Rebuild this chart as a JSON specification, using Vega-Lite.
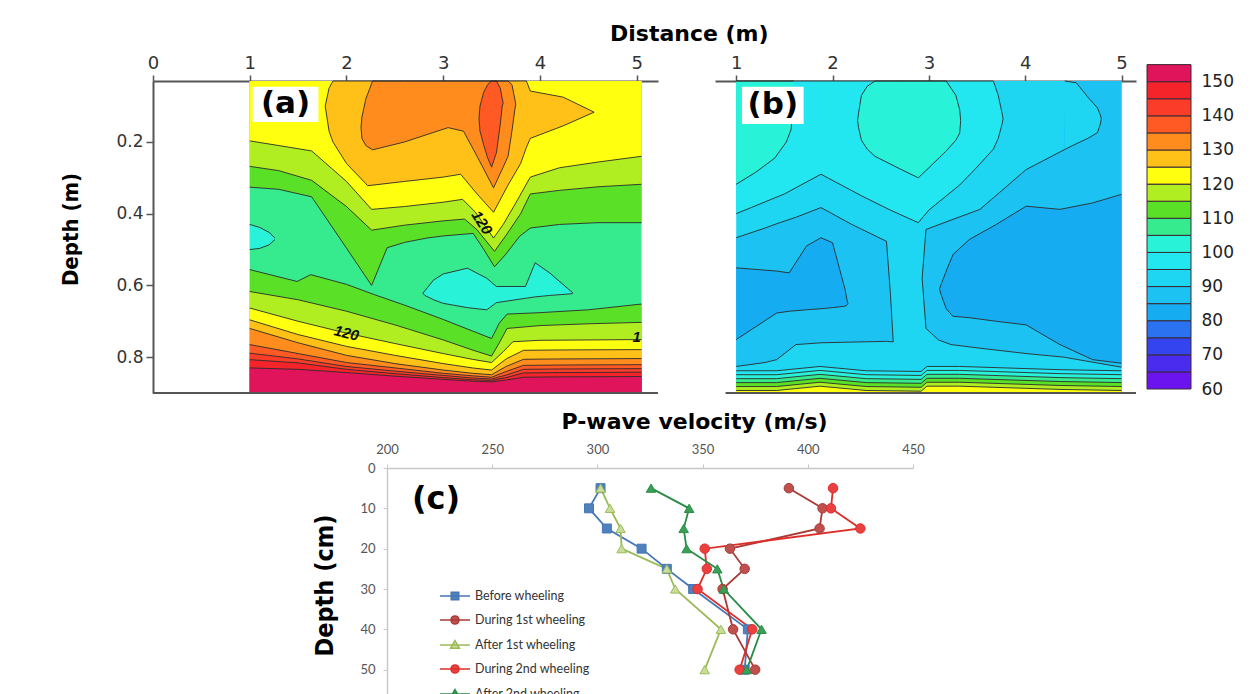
{
"$schema":"https://vega.github.io/schema/vega-lite/v6.json",
"background":"white",
"padding":{"left":59,"top":23,"right":5,"bottom":0},
"title":{"text":"Distance (m)","anchor":"start","frame":"bounds","dx":551,"dy":23,"offset":9,"baseline":"bottom","font":"DejaVu Sans","fontSize":22,"fontWeight":"bold","color":"#000"},
"config":{"view":{"stroke":null},"axis":{"labelOverlap":false,"labelFlush":false,"grid":false}},
"resolve":{"scale":{"fill":"independent","stroke":"independent","shape":"independent"}},
"datasets":{
"A":[
{"g":"a0","o":0,"v":105,"t":0,"b":0,"x":1,"y1":0.03,"y2":0.9},
{"g":"a0","o":0,"v":105,"t":0,"b":0,"x":5.05,"y1":0.03,"y2":0.9},
{"g":"ai1","o":1,"v":100,"t":1,"b":1,"x":1,"y1":0.43,"y2":0.5},
{"g":"ai1","o":1,"v":100,"t":1,"b":1,"x":1.1,"y1":0.438,"y2":0.497},
{"g":"ai1","o":1,"v":100,"t":1,"b":1,"x":1.2,"y1":0.452,"y2":0.487},
{"g":"ai1","o":1,"v":100,"t":1,"b":1,"x":1.26,"y1":0.468,"y2":0.472},
{"g":"ai2","o":1,"v":100,"t":1,"b":1,"x":2.79,"y1":0.622,"y2":0.622},
{"g":"ai2","o":1,"v":100,"t":1,"b":1,"x":2.81,"y1":0.615,"y2":0.628},
{"g":"ai2","o":1,"v":100,"t":1,"b":1,"x":2.9,"y1":0.585,"y2":0.64},
{"g":"ai2","o":1,"v":100,"t":1,"b":1,"x":3.0,"y1":0.568,"y2":0.65},
{"g":"ai2","o":1,"v":100,"t":1,"b":1,"x":3.25,"y1":0.552,"y2":0.662},
{"g":"ai2","o":1,"v":100,"t":1,"b":1,"x":3.45,"y1":0.58,"y2":0.668},
{"g":"ai2","o":1,"v":100,"t":1,"b":1,"x":3.55,"y1":0.603,"y2":0.648},
{"g":"ai2","o":1,"v":100,"t":1,"b":1,"x":3.85,"y1":0.603,"y2":0.636},
{"g":"ai2","o":1,"v":100,"t":1,"b":1,"x":3.95,"y1":0.537,"y2":0.632},
{"g":"ai2","o":1,"v":100,"t":1,"b":1,"x":4.1,"y1":0.565,"y2":0.628},
{"g":"ai2","o":1,"v":100,"t":1,"b":1,"x":4.34,"y1":0.621,"y2":0.623},
{"g":"a110t","o":2,"v":110,"t":0,"b":1,"x":1,"y1":0.03,"y2":0.326},
{"g":"a110t","o":2,"v":110,"t":0,"b":1,"x":1.3,"y1":0.03,"y2":0.332},
{"g":"a110t","o":2,"v":110,"t":0,"b":1,"x":1.64,"y1":0.03,"y2":0.353},
{"g":"a110t","o":2,"v":110,"t":0,"b":1,"x":2.0,"y1":0.03,"y2":0.496},
{"g":"a110t","o":2,"v":110,"t":0,"b":1,"x":2.26,"y1":0.03,"y2":0.6},
{"g":"a110t","o":2,"v":110,"t":0,"b":1,"x":2.42,"y1":0.03,"y2":0.495},
{"g":"a110t","o":2,"v":110,"t":0,"b":1,"x":2.6,"y1":0.03,"y2":0.48},
{"g":"a110t","o":2,"v":110,"t":0,"b":1,"x":2.83,"y1":0.03,"y2":0.468},
{"g":"a110t","o":2,"v":110,"t":0,"b":1,"x":3.0,"y1":0.03,"y2":0.462},
{"g":"a110t","o":2,"v":110,"t":0,"b":1,"x":3.31,"y1":0.03,"y2":0.455},
{"g":"a110t","o":2,"v":110,"t":0,"b":1,"x":3.42,"y1":0.03,"y2":0.5},
{"g":"a110t","o":2,"v":110,"t":0,"b":1,"x":3.53,"y1":0.03,"y2":0.548},
{"g":"a110t","o":2,"v":110,"t":0,"b":1,"x":3.64,"y1":0.03,"y2":0.515},
{"g":"a110t","o":2,"v":110,"t":0,"b":1,"x":3.79,"y1":0.03,"y2":0.463},
{"g":"a110t","o":2,"v":110,"t":0,"b":1,"x":3.9,"y1":0.03,"y2":0.44},
{"g":"a110t","o":2,"v":110,"t":0,"b":1,"x":4.2,"y1":0.03,"y2":0.43},
{"g":"a110t","o":2,"v":110,"t":0,"b":1,"x":4.6,"y1":0.03,"y2":0.425},
{"g":"a110t","o":2,"v":110,"t":0,"b":1,"x":5.05,"y1":0.03,"y2":0.425},
{"g":"a110b","o":2,"v":110,"t":1,"b":0,"x":1,"y1":0.556,"y2":0.9},
{"g":"a110b","o":2,"v":110,"t":1,"b":0,"x":1.49,"y1":0.589,"y2":0.9},
{"g":"a110b","o":2,"v":110,"t":1,"b":0,"x":1.63,"y1":0.57,"y2":0.9},
{"g":"a110b","o":2,"v":110,"t":1,"b":0,"x":2.0,"y1":0.597,"y2":0.9},
{"g":"a110b","o":2,"v":110,"t":1,"b":0,"x":2.28,"y1":0.625,"y2":0.9},
{"g":"a110b","o":2,"v":110,"t":1,"b":0,"x":2.6,"y1":0.655,"y2":0.9},
{"g":"a110b","o":2,"v":110,"t":1,"b":0,"x":3.0,"y1":0.695,"y2":0.9},
{"g":"a110b","o":2,"v":110,"t":1,"b":0,"x":3.31,"y1":0.728,"y2":0.9},
{"g":"a110b","o":2,"v":110,"t":1,"b":0,"x":3.5,"y1":0.748,"y2":0.9},
{"g":"a110b","o":2,"v":110,"t":1,"b":0,"x":3.58,"y1":0.705,"y2":0.9},
{"g":"a110b","o":2,"v":110,"t":1,"b":0,"x":3.66,"y1":0.68,"y2":0.9},
{"g":"a110b","o":2,"v":110,"t":1,"b":0,"x":4.0,"y1":0.676,"y2":0.9},
{"g":"a110b","o":2,"v":110,"t":1,"b":0,"x":4.5,"y1":0.668,"y2":0.9},
{"g":"a110b","o":2,"v":110,"t":1,"b":0,"x":5.05,"y1":0.652,"y2":0.9},
{"g":"a115t","o":3,"v":115,"t":0,"b":1,"x":1,"y1":0.03,"y2":0.268},
{"g":"a115t","o":3,"v":115,"t":0,"b":1,"x":1.3,"y1":0.03,"y2":0.28},
{"g":"a115t","o":3,"v":115,"t":0,"b":1,"x":1.64,"y1":0.03,"y2":0.307},
{"g":"a115t","o":3,"v":115,"t":0,"b":1,"x":2.0,"y1":0.03,"y2":0.38},
{"g":"a115t","o":3,"v":115,"t":0,"b":1,"x":2.26,"y1":0.03,"y2":0.446},
{"g":"a115t","o":3,"v":115,"t":0,"b":1,"x":2.6,"y1":0.03,"y2":0.432},
{"g":"a115t","o":3,"v":115,"t":0,"b":1,"x":3.0,"y1":0.03,"y2":0.42},
{"g":"a115t","o":3,"v":115,"t":0,"b":1,"x":3.22,"y1":0.03,"y2":0.415},
{"g":"a115t","o":3,"v":115,"t":0,"b":1,"x":3.35,"y1":0.03,"y2":0.445},
{"g":"a115t","o":3,"v":115,"t":0,"b":1,"x":3.53,"y1":0.03,"y2":0.505},
{"g":"a115t","o":3,"v":115,"t":0,"b":1,"x":3.65,"y1":0.03,"y2":0.46},
{"g":"a115t","o":3,"v":115,"t":0,"b":1,"x":3.8,"y1":0.03,"y2":0.4},
{"g":"a115t","o":3,"v":115,"t":0,"b":1,"x":3.9,"y1":0.03,"y2":0.345},
{"g":"a115t","o":3,"v":115,"t":0,"b":1,"x":4.2,"y1":0.03,"y2":0.335},
{"g":"a115t","o":3,"v":115,"t":0,"b":1,"x":4.6,"y1":0.03,"y2":0.325},
{"g":"a115t","o":3,"v":115,"t":0,"b":1,"x":5.05,"y1":0.03,"y2":0.318},
{"g":"a115b","o":3,"v":115,"t":1,"b":0,"x":1,"y1":0.617,"y2":0.9},
{"g":"a115b","o":3,"v":115,"t":1,"b":0,"x":1.5,"y1":0.64,"y2":0.9},
{"g":"a115b","o":3,"v":115,"t":1,"b":0,"x":2.0,"y1":0.672,"y2":0.9},
{"g":"a115b","o":3,"v":115,"t":1,"b":0,"x":2.5,"y1":0.71,"y2":0.9},
{"g":"a115b","o":3,"v":115,"t":1,"b":0,"x":3.0,"y1":0.752,"y2":0.9},
{"g":"a115b","o":3,"v":115,"t":1,"b":0,"x":3.3,"y1":0.78,"y2":0.9},
{"g":"a115b","o":3,"v":115,"t":1,"b":0,"x":3.5,"y1":0.797,"y2":0.9},
{"g":"a115b","o":3,"v":115,"t":1,"b":0,"x":3.58,"y1":0.76,"y2":0.9},
{"g":"a115b","o":3,"v":115,"t":1,"b":0,"x":3.66,"y1":0.72,"y2":0.9},
{"g":"a115b","o":3,"v":115,"t":1,"b":0,"x":4.0,"y1":0.712,"y2":0.9},
{"g":"a115b","o":3,"v":115,"t":1,"b":0,"x":4.5,"y1":0.707,"y2":0.9},
{"g":"a115b","o":3,"v":115,"t":1,"b":0,"x":5.05,"y1":0.703,"y2":0.9},
{"g":"a120t","o":4,"v":120,"t":0,"b":1,"x":1,"y1":0.03,"y2":0.197},
{"g":"a120t","o":4,"v":120,"t":0,"b":1,"x":1.3,"y1":0.03,"y2":0.21},
{"g":"a120t","o":4,"v":120,"t":0,"b":1,"x":1.64,"y1":0.03,"y2":0.225},
{"g":"a120t","o":4,"v":120,"t":0,"b":1,"x":2.0,"y1":0.03,"y2":0.31},
{"g":"a120t","o":4,"v":120,"t":0,"b":1,"x":2.26,"y1":0.03,"y2":0.388},
{"g":"a120t","o":4,"v":120,"t":0,"b":1,"x":2.6,"y1":0.03,"y2":0.38},
{"g":"a120t","o":4,"v":120,"t":0,"b":1,"x":3.0,"y1":0.03,"y2":0.368},
{"g":"a120t","o":4,"v":120,"t":0,"b":1,"x":3.2,"y1":0.03,"y2":0.36},
{"g":"a120t","o":4,"v":120,"t":0,"b":1,"x":3.33,"y1":0.03,"y2":0.395},
{"g":"a120t","o":4,"v":120,"t":0,"b":1,"x":3.52,"y1":0.03,"y2":0.468},
{"g":"a120t","o":4,"v":120,"t":0,"b":1,"x":3.62,"y1":0.03,"y2":0.43},
{"g":"a120t","o":4,"v":120,"t":0,"b":1,"x":3.75,"y1":0.03,"y2":0.37},
{"g":"a120t","o":4,"v":120,"t":0,"b":1,"x":3.9,"y1":0.03,"y2":0.298},
{"g":"a120t","o":4,"v":120,"t":0,"b":1,"x":4.2,"y1":0.03,"y2":0.272},
{"g":"a120t","o":4,"v":120,"t":0,"b":1,"x":4.6,"y1":0.03,"y2":0.256},
{"g":"a120t","o":4,"v":120,"t":0,"b":1,"x":5.05,"y1":0.03,"y2":0.24},
{"g":"a120b","o":4,"v":120,"t":1,"b":0,"x":1,"y1":0.663,"y2":0.9},
{"g":"a120b","o":4,"v":120,"t":1,"b":0,"x":1.5,"y1":0.7,"y2":0.9},
{"g":"a120b","o":4,"v":120,"t":1,"b":0,"x":2.0,"y1":0.733,"y2":0.9},
{"g":"a120b","o":4,"v":120,"t":1,"b":0,"x":2.5,"y1":0.762,"y2":0.9},
{"g":"a120b","o":4,"v":120,"t":1,"b":0,"x":3.0,"y1":0.79,"y2":0.9},
{"g":"a120b","o":4,"v":120,"t":1,"b":0,"x":3.3,"y1":0.806,"y2":0.9},
{"g":"a120b","o":4,"v":120,"t":1,"b":0,"x":3.5,"y1":0.815,"y2":0.9},
{"g":"a120b","o":4,"v":120,"t":1,"b":0,"x":3.62,"y1":0.785,"y2":0.9},
{"g":"a120b","o":4,"v":120,"t":1,"b":0,"x":3.72,"y1":0.757,"y2":0.9},
{"g":"a120b","o":4,"v":120,"t":1,"b":0,"x":4.0,"y1":0.753,"y2":0.9},
{"g":"a120b","o":4,"v":120,"t":1,"b":0,"x":5.05,"y1":0.751,"y2":0.9},
{"g":"agold","o":5,"v":125,"t":1,"b":1,"x":1.78,"y1":0.1,"y2":0.1},
{"g":"agold","o":5,"v":125,"t":1,"b":1,"x":1.82,"y1":0.05,"y2":0.17},
{"g":"agold","o":5,"v":125,"t":1,"b":1,"x":1.86,"y1":0.03,"y2":0.2},
{"g":"agold","o":5,"v":125,"t":1,"b":1,"x":2.0,"y1":0.03,"y2":0.26},
{"g":"agold","o":5,"v":125,"t":1,"b":1,"x":2.22,"y1":0.03,"y2":0.322},
{"g":"agold","o":5,"v":125,"t":1,"b":1,"x":2.6,"y1":0.03,"y2":0.31},
{"g":"agold","o":5,"v":125,"t":1,"b":1,"x":3.0,"y1":0.03,"y2":0.298},
{"g":"agold","o":5,"v":125,"t":1,"b":1,"x":3.18,"y1":0.03,"y2":0.29},
{"g":"agold","o":5,"v":125,"t":1,"b":1,"x":3.35,"y1":0.03,"y2":0.345},
{"g":"agold","o":5,"v":125,"t":1,"b":1,"x":3.52,"y1":0.03,"y2":0.396},
{"g":"agold","o":5,"v":125,"t":1,"b":1,"x":3.67,"y1":0.03,"y2":0.32},
{"g":"agold","o":5,"v":125,"t":1,"b":1,"x":3.8,"y1":0.03,"y2":0.26},
{"g":"agold","o":5,"v":125,"t":1,"b":1,"x":3.86,"y1":0.03,"y2":0.215},
{"g":"agold","o":5,"v":125,"t":1,"b":1,"x":3.9,"y1":0.058,"y2":0.19},
{"g":"agold","o":5,"v":125,"t":1,"b":1,"x":4.24,"y1":0.075,"y2":0.155},
{"g":"agold","o":5,"v":125,"t":1,"b":1,"x":4.56,"y1":0.117,"y2":0.117},
{"g":"a125b","o":5,"v":125,"t":1,"b":0,"x":1,"y1":0.696,"y2":0.9},
{"g":"a125b","o":5,"v":125,"t":1,"b":0,"x":1.5,"y1":0.737,"y2":0.9},
{"g":"a125b","o":5,"v":125,"t":1,"b":0,"x":2.0,"y1":0.77,"y2":0.9},
{"g":"a125b","o":5,"v":125,"t":1,"b":0,"x":2.5,"y1":0.795,"y2":0.9},
{"g":"a125b","o":5,"v":125,"t":1,"b":0,"x":3.0,"y1":0.818,"y2":0.9},
{"g":"a125b","o":5,"v":125,"t":1,"b":0,"x":3.3,"y1":0.83,"y2":0.9},
{"g":"a125b","o":5,"v":125,"t":1,"b":0,"x":3.5,"y1":0.836,"y2":0.9},
{"g":"a125b","o":5,"v":125,"t":1,"b":0,"x":3.65,"y1":0.805,"y2":0.9},
{"g":"a125b","o":5,"v":125,"t":1,"b":0,"x":3.83,"y1":0.781,"y2":0.9},
{"g":"a125b","o":5,"v":125,"t":1,"b":0,"x":4.2,"y1":0.78,"y2":0.9},
{"g":"a125b","o":5,"v":125,"t":1,"b":0,"x":5.05,"y1":0.779,"y2":0.9},
{"g":"aor","o":6,"v":130,"t":1,"b":1,"x":2.15,"y1":0.16,"y2":0.16},
{"g":"aor","o":6,"v":130,"t":1,"b":1,"x":2.16,"y1":0.13,"y2":0.19},
{"g":"aor","o":6,"v":130,"t":1,"b":1,"x":2.2,"y1":0.08,"y2":0.21},
{"g":"aor","o":6,"v":130,"t":1,"b":1,"x":2.27,"y1":0.03,"y2":0.222},
{"g":"aor","o":6,"v":130,"t":1,"b":1,"x":2.6,"y1":0.03,"y2":0.2},
{"g":"aor","o":6,"v":130,"t":1,"b":1,"x":3.05,"y1":0.03,"y2":0.16},
{"g":"aor","o":6,"v":130,"t":1,"b":1,"x":3.21,"y1":0.03,"y2":0.17},
{"g":"aor","o":6,"v":130,"t":1,"b":1,"x":3.35,"y1":0.03,"y2":0.24},
{"g":"aor","o":6,"v":130,"t":1,"b":1,"x":3.52,"y1":0.03,"y2":0.328},
{"g":"aor","o":6,"v":130,"t":1,"b":1,"x":3.62,"y1":0.03,"y2":0.27},
{"g":"aor","o":6,"v":130,"t":1,"b":1,"x":3.67,"y1":0.03,"y2":0.24},
{"g":"aor","o":6,"v":130,"t":1,"b":1,"x":3.71,"y1":0.04,"y2":0.17},
{"g":"aor","o":6,"v":130,"t":1,"b":1,"x":3.74,"y1":0.08,"y2":0.11},
{"g":"aor","o":6,"v":130,"t":1,"b":1,"x":3.75,"y1":0.095,"y2":0.095},
{"g":"a130b","o":6,"v":130,"t":1,"b":0,"x":1,"y1":0.72,"y2":0.9},
{"g":"a130b","o":6,"v":130,"t":1,"b":0,"x":1.5,"y1":0.76,"y2":0.9},
{"g":"a130b","o":6,"v":130,"t":1,"b":0,"x":2.0,"y1":0.795,"y2":0.9},
{"g":"a130b","o":6,"v":130,"t":1,"b":0,"x":2.5,"y1":0.818,"y2":0.9},
{"g":"a130b","o":6,"v":130,"t":1,"b":0,"x":3.0,"y1":0.836,"y2":0.9},
{"g":"a130b","o":6,"v":130,"t":1,"b":0,"x":3.3,"y1":0.845,"y2":0.9},
{"g":"a130b","o":6,"v":130,"t":1,"b":0,"x":3.5,"y1":0.849,"y2":0.9},
{"g":"a130b","o":6,"v":130,"t":1,"b":0,"x":3.65,"y1":0.826,"y2":0.9},
{"g":"a130b","o":6,"v":130,"t":1,"b":0,"x":3.83,"y1":0.806,"y2":0.9},
{"g":"a130b","o":6,"v":130,"t":1,"b":0,"x":4.2,"y1":0.805,"y2":0.9},
{"g":"a130b","o":6,"v":130,"t":1,"b":0,"x":5.05,"y1":0.804,"y2":0.9},
{"g":"asp","o":7,"v":135,"t":1,"b":1,"x":3.37,"y1":0.135,"y2":0.135},
{"g":"asp","o":7,"v":135,"t":1,"b":1,"x":3.38,"y1":0.1,"y2":0.17},
{"g":"asp","o":7,"v":135,"t":1,"b":1,"x":3.42,"y1":0.06,"y2":0.21},
{"g":"asp","o":7,"v":135,"t":1,"b":1,"x":3.46,"y1":0.04,"y2":0.245},
{"g":"asp","o":7,"v":135,"t":1,"b":1,"x":3.5,"y1":0.03,"y2":0.27},
{"g":"asp","o":7,"v":135,"t":1,"b":1,"x":3.55,"y1":0.03,"y2":0.23},
{"g":"asp","o":7,"v":135,"t":1,"b":1,"x":3.59,"y1":0.05,"y2":0.15},
{"g":"asp","o":7,"v":135,"t":1,"b":1,"x":3.61,"y1":0.08,"y2":0.1},
{"g":"asp","o":7,"v":135,"t":1,"b":1,"x":3.62,"y1":0.09,"y2":0.09},
{"g":"a135b","o":7,"v":135,"t":1,"b":0,"x":1,"y1":0.765,"y2":0.9},
{"g":"a135b","o":7,"v":135,"t":1,"b":0,"x":1.5,"y1":0.79,"y2":0.9},
{"g":"a135b","o":7,"v":135,"t":1,"b":0,"x":2.0,"y1":0.815,"y2":0.9},
{"g":"a135b","o":7,"v":135,"t":1,"b":0,"x":2.5,"y1":0.83,"y2":0.9},
{"g":"a135b","o":7,"v":135,"t":1,"b":0,"x":3.0,"y1":0.845,"y2":0.9},
{"g":"a135b","o":7,"v":135,"t":1,"b":0,"x":3.3,"y1":0.852,"y2":0.9},
{"g":"a135b","o":7,"v":135,"t":1,"b":0,"x":3.5,"y1":0.856,"y2":0.9},
{"g":"a135b","o":7,"v":135,"t":1,"b":0,"x":3.65,"y1":0.84,"y2":0.9},
{"g":"a135b","o":7,"v":135,"t":1,"b":0,"x":3.83,"y1":0.823,"y2":0.9},
{"g":"a135b","o":7,"v":135,"t":1,"b":0,"x":4.2,"y1":0.822,"y2":0.9},
{"g":"a135b","o":7,"v":135,"t":1,"b":0,"x":5.05,"y1":0.821,"y2":0.9},
{"g":"a140b","o":8,"v":140,"t":1,"b":0,"x":1,"y1":0.789,"y2":0.9},
{"g":"a140b","o":8,"v":140,"t":1,"b":0,"x":1.5,"y1":0.805,"y2":0.9},
{"g":"a140b","o":8,"v":140,"t":1,"b":0,"x":2.0,"y1":0.826,"y2":0.9},
{"g":"a140b","o":8,"v":140,"t":1,"b":0,"x":2.5,"y1":0.839,"y2":0.9},
{"g":"a140b","o":8,"v":140,"t":1,"b":0,"x":3.0,"y1":0.851,"y2":0.9},
{"g":"a140b","o":8,"v":140,"t":1,"b":0,"x":3.3,"y1":0.858,"y2":0.9},
{"g":"a140b","o":8,"v":140,"t":1,"b":0,"x":3.5,"y1":0.861,"y2":0.9},
{"g":"a140b","o":8,"v":140,"t":1,"b":0,"x":3.65,"y1":0.85,"y2":0.9},
{"g":"a140b","o":8,"v":140,"t":1,"b":0,"x":3.83,"y1":0.834,"y2":0.9},
{"g":"a140b","o":8,"v":140,"t":1,"b":0,"x":4.2,"y1":0.833,"y2":0.9},
{"g":"a140b","o":8,"v":140,"t":1,"b":0,"x":5.05,"y1":0.832,"y2":0.9},
{"g":"a145b","o":9,"v":145,"t":1,"b":0,"x":1,"y1":0.807,"y2":0.9},
{"g":"a145b","o":9,"v":145,"t":1,"b":0,"x":1.5,"y1":0.816,"y2":0.9},
{"g":"a145b","o":9,"v":145,"t":1,"b":0,"x":2.0,"y1":0.834,"y2":0.9},
{"g":"a145b","o":9,"v":145,"t":1,"b":0,"x":2.5,"y1":0.846,"y2":0.9},
{"g":"a145b","o":9,"v":145,"t":1,"b":0,"x":3.0,"y1":0.857,"y2":0.9},
{"g":"a145b","o":9,"v":145,"t":1,"b":0,"x":3.3,"y1":0.863,"y2":0.9},
{"g":"a145b","o":9,"v":145,"t":1,"b":0,"x":3.5,"y1":0.865,"y2":0.9},
{"g":"a145b","o":9,"v":145,"t":1,"b":0,"x":3.65,"y1":0.857,"y2":0.9},
{"g":"a145b","o":9,"v":145,"t":1,"b":0,"x":3.83,"y1":0.844,"y2":0.9},
{"g":"a145b","o":9,"v":145,"t":1,"b":0,"x":4.2,"y1":0.843,"y2":0.9},
{"g":"a145b","o":9,"v":145,"t":1,"b":0,"x":5.05,"y1":0.842,"y2":0.9},
{"g":"a150b","o":10,"v":150,"t":1,"b":0,"x":1,"y1":0.83,"y2":0.9},
{"g":"a150b","o":10,"v":150,"t":1,"b":0,"x":1.5,"y1":0.834,"y2":0.9},
{"g":"a150b","o":10,"v":150,"t":1,"b":0,"x":2.0,"y1":0.843,"y2":0.9},
{"g":"a150b","o":10,"v":150,"t":1,"b":0,"x":2.5,"y1":0.853,"y2":0.9},
{"g":"a150b","o":10,"v":150,"t":1,"b":0,"x":3.0,"y1":0.862,"y2":0.9},
{"g":"a150b","o":10,"v":150,"t":1,"b":0,"x":3.3,"y1":0.867,"y2":0.9},
{"g":"a150b","o":10,"v":150,"t":1,"b":0,"x":3.5,"y1":0.869,"y2":0.9},
{"g":"a150b","o":10,"v":150,"t":1,"b":0,"x":3.65,"y1":0.864,"y2":0.9},
{"g":"a150b","o":10,"v":150,"t":1,"b":0,"x":3.83,"y1":0.856,"y2":0.9},
{"g":"a150b","o":10,"v":150,"t":1,"b":0,"x":4.2,"y1":0.855,"y2":0.9},
{"g":"a150b","o":10,"v":150,"t":1,"b":0,"x":5.05,"y1":0.854,"y2":0.9}
],
"B":[
{"g":"b0","o":0,"v":90,"t":0,"b":0,"x":1,"y1":0.03,"y2":0.9},
{"g":"b0","o":0,"v":90,"t":0,"b":0,"x":5,"y1":0.03,"y2":0.9},
{"g":"bDl","o":1,"v":85,"t":1,"b":1,"x":1,"y1":0.467,"y2":0.826},
{"g":"bDl","o":1,"v":85,"t":1,"b":1,"x":1.3,"y1":0.44,"y2":0.815},
{"g":"bDl","o":1,"v":85,"t":1,"b":1,"x":1.42,"y1":0.428,"y2":0.807},
{"g":"bDl","o":1,"v":85,"t":1,"b":1,"x":1.62,"y1":0.41,"y2":0.765},
{"g":"bDl","o":1,"v":85,"t":1,"b":1,"x":1.88,"y1":0.383,"y2":0.76},
{"g":"bDl","o":1,"v":85,"t":1,"b":1,"x":2.2,"y1":0.43,"y2":0.758},
{"g":"bDl","o":1,"v":85,"t":1,"b":1,"x":2.56,"y1":0.477,"y2":0.756},
{"g":"bDl","o":1,"v":85,"t":1,"b":1,"x":2.6,"y1":0.62,"y2":0.757},
{"g":"bDl","o":1,"v":85,"t":1,"b":1,"x":2.63,"y1":0.757,"y2":0.757},
{"g":"bDr","o":1,"v":85,"t":0,"b":1,"x":2.93,"y1":0.58,"y2":0.58},
{"g":"bDr","o":1,"v":85,"t":0,"b":1,"x":2.97,"y1":0.444,"y2":0.72},
{"g":"bDr","o":1,"v":85,"t":0,"b":1,"x":3.1,"y1":0.43,"y2":0.752},
{"g":"bDr","o":1,"v":85,"t":0,"b":1,"x":3.23,"y1":0.415,"y2":0.765},
{"g":"bDr","o":1,"v":85,"t":0,"b":1,"x":3.53,"y1":0.388,"y2":0.775},
{"g":"bDr","o":1,"v":85,"t":0,"b":1,"x":4.01,"y1":0.277,"y2":0.79},
{"g":"bDr","o":1,"v":85,"t":0,"b":1,"x":4.4,"y1":0.222,"y2":0.8},
{"g":"bDr","o":1,"v":85,"t":0,"b":1,"x":4.42,"y1":0.03,"y2":0.801},
{"g":"bDr","o":1,"v":85,"t":0,"b":1,"x":5,"y1":0.03,"y2":0.828},
{"g":"bL3","o":-1,"v":85,"t":1,"b":0,"x":2.93,"y1":0.58,"y2":0.58},
{"g":"bL3","o":-1,"v":85,"t":1,"b":0,"x":2.97,"y1":0.444,"y2":0.444},
{"g":"bL3","o":-1,"v":85,"t":1,"b":0,"x":3.53,"y1":0.388,"y2":0.388},
{"g":"bL3","o":-1,"v":85,"t":1,"b":0,"x":4.01,"y1":0.277,"y2":0.277},
{"g":"bL3","o":-1,"v":85,"t":1,"b":0,"x":4.41,"y1":0.221,"y2":0.221},
{"g":"bCb","o":2,"v":90,"t":1,"b":1,"x":4.41,"y1":0.03,"y2":0.221},
{"g":"bCb","o":2,"v":90,"t":1,"b":1,"x":4.53,"y1":0.035,"y2":0.205},
{"g":"bCb","o":2,"v":90,"t":1,"b":1,"x":4.65,"y1":0.075,"y2":0.19},
{"g":"bCb","o":2,"v":90,"t":1,"b":1,"x":4.75,"y1":0.105,"y2":0.174},
{"g":"bCb","o":2,"v":90,"t":1,"b":1,"x":4.78,"y1":0.125,"y2":0.15},
{"g":"bCb","o":2,"v":90,"t":1,"b":1,"x":4.79,"y1":0.135,"y2":0.135},
{"g":"bEl","o":2,"v":80,"t":1,"b":1,"x":1,"y1":0.551,"y2":0.751},
{"g":"bEl","o":2,"v":80,"t":1,"b":1,"x":1.42,"y1":0.56,"y2":0.677},
{"g":"bEl","o":2,"v":80,"t":1,"b":1,"x":1.55,"y1":0.565,"y2":0.672},
{"g":"bEl","o":2,"v":80,"t":1,"b":1,"x":1.73,"y1":0.49,"y2":0.668},
{"g":"bEl","o":2,"v":80,"t":1,"b":1,"x":1.88,"y1":0.467,"y2":0.665},
{"g":"bEl","o":2,"v":80,"t":1,"b":1,"x":2.0,"y1":0.481,"y2":0.662},
{"g":"bEl","o":2,"v":80,"t":1,"b":1,"x":2.13,"y1":0.611,"y2":0.658},
{"g":"bEl","o":2,"v":80,"t":1,"b":1,"x":2.15,"y1":0.64,"y2":0.655},
{"g":"bEl","o":2,"v":80,"t":1,"b":1,"x":2.16,"y1":0.65,"y2":0.65},
{"g":"bEr","o":2,"v":80,"t":1,"b":1,"x":3.11,"y1":0.61,"y2":0.61},
{"g":"bEr","o":2,"v":80,"t":1,"b":1,"x":3.13,"y1":0.595,"y2":0.628},
{"g":"bEr","o":2,"v":80,"t":1,"b":1,"x":3.18,"y1":0.56,"y2":0.665},
{"g":"bEr","o":2,"v":80,"t":1,"b":1,"x":3.25,"y1":0.514,"y2":0.686},
{"g":"bEr","o":2,"v":80,"t":1,"b":1,"x":3.42,"y1":0.472,"y2":0.69},
{"g":"bEr","o":2,"v":80,"t":1,"b":1,"x":3.7,"y1":0.43,"y2":0.7},
{"g":"bEr","o":2,"v":80,"t":1,"b":1,"x":4.01,"y1":0.379,"y2":0.71},
{"g":"bEr","o":2,"v":80,"t":1,"b":1,"x":4.36,"y1":0.388,"y2":0.765},
{"g":"bEr","o":2,"v":80,"t":1,"b":1,"x":4.7,"y1":0.37,"y2":0.807},
{"g":"bEr","o":2,"v":80,"t":1,"b":1,"x":5,"y1":0.346,"y2":0.817},
{"g":"bB","o":3,"v":95,"t":1,"b":1,"x":1,"y1":0.03,"y2":0.4},
{"g":"bB","o":3,"v":95,"t":1,"b":1,"x":1.5,"y1":0.03,"y2":0.345},
{"g":"bB","o":3,"v":95,"t":1,"b":1,"x":1.88,"y1":0.03,"y2":0.29},
{"g":"bB","o":3,"v":95,"t":1,"b":1,"x":2.3,"y1":0.03,"y2":0.35},
{"g":"bB","o":3,"v":95,"t":1,"b":1,"x":2.6,"y1":0.03,"y2":0.39},
{"g":"bB","o":3,"v":95,"t":1,"b":1,"x":2.89,"y1":0.03,"y2":0.425},
{"g":"bB","o":3,"v":95,"t":1,"b":1,"x":3.0,"y1":0.03,"y2":0.39},
{"g":"bB","o":3,"v":95,"t":1,"b":1,"x":3.32,"y1":0.03,"y2":0.32},
{"g":"bB","o":3,"v":95,"t":1,"b":1,"x":3.5,"y1":0.03,"y2":0.27},
{"g":"bB","o":3,"v":95,"t":1,"b":1,"x":3.67,"y1":0.03,"y2":0.22},
{"g":"bB","o":3,"v":95,"t":1,"b":1,"x":3.72,"y1":0.07,"y2":0.19},
{"g":"bB","o":3,"v":95,"t":1,"b":1,"x":3.76,"y1":0.12,"y2":0.15},
{"g":"bB","o":3,"v":95,"t":1,"b":1,"x":3.77,"y1":0.135,"y2":0.135},
{"g":"bAl","o":4,"v":100,"t":1,"b":1,"x":1,"y1":0.03,"y2":0.318},
{"g":"bAl","o":4,"v":100,"t":1,"b":1,"x":1.2,"y1":0.03,"y2":0.285},
{"g":"bAl","o":4,"v":100,"t":1,"b":1,"x":1.4,"y1":0.03,"y2":0.245},
{"g":"bAl","o":4,"v":100,"t":1,"b":1,"x":1.52,"y1":0.03,"y2":0.2},
{"g":"bAl","o":4,"v":100,"t":1,"b":1,"x":1.57,"y1":0.03,"y2":0.165},
{"g":"bAl","o":4,"v":100,"t":1,"b":1,"x":1.6,"y1":0.03,"y2":0.06},
{"g":"bAc","o":4,"v":100,"t":1,"b":1,"x":2.26,"y1":0.14,"y2":0.14},
{"g":"bAc","o":4,"v":100,"t":1,"b":1,"x":2.27,"y1":0.12,"y2":0.16},
{"g":"bAc","o":4,"v":100,"t":1,"b":1,"x":2.3,"y1":0.07,"y2":0.195},
{"g":"bAc","o":4,"v":100,"t":1,"b":1,"x":2.36,"y1":0.045,"y2":0.22},
{"g":"bAc","o":4,"v":100,"t":1,"b":1,"x":2.44,"y1":0.03,"y2":0.24},
{"g":"bAc","o":4,"v":100,"t":1,"b":1,"x":2.7,"y1":0.03,"y2":0.275},
{"g":"bAc","o":4,"v":100,"t":1,"b":1,"x":2.89,"y1":0.03,"y2":0.3},
{"g":"bAc","o":4,"v":100,"t":1,"b":1,"x":3.0,"y1":0.03,"y2":0.272},
{"g":"bAc","o":4,"v":100,"t":1,"b":1,"x":3.18,"y1":0.03,"y2":0.225},
{"g":"bAc","o":4,"v":100,"t":1,"b":1,"x":3.28,"y1":0.07,"y2":0.195},
{"g":"bAc","o":4,"v":100,"t":1,"b":1,"x":3.32,"y1":0.11,"y2":0.175},
{"g":"bAc","o":4,"v":100,"t":1,"b":1,"x":3.33,"y1":0.14,"y2":0.14},
{"g":"bS95","o":5,"v":95,"t":1,"b":0,"x":1,"y1":0.838,"y2":0.9},
{"g":"bS95","o":5,"v":95,"t":1,"b":0,"x":1.42,"y1":0.838,"y2":0.9},
{"g":"bS95","o":5,"v":95,"t":1,"b":0,"x":1.87,"y1":0.826,"y2":0.9},
{"g":"bS95","o":5,"v":95,"t":1,"b":0,"x":2.35,"y1":0.838,"y2":0.9},
{"g":"bS95","o":5,"v":95,"t":1,"b":0,"x":2.92,"y1":0.84,"y2":0.9},
{"g":"bS95","o":5,"v":95,"t":1,"b":0,"x":2.98,"y1":0.826,"y2":0.9},
{"g":"bS95","o":5,"v":95,"t":1,"b":0,"x":3.32,"y1":0.826,"y2":0.9},
{"g":"bS95","o":5,"v":95,"t":1,"b":0,"x":4.36,"y1":0.835,"y2":0.9},
{"g":"bS95","o":5,"v":95,"t":1,"b":0,"x":5,"y1":0.838,"y2":0.9},
{"g":"bS100","o":6,"v":100,"t":1,"b":0,"x":1,"y1":0.849,"y2":0.9},
{"g":"bS100","o":6,"v":100,"t":1,"b":0,"x":1.42,"y1":0.849,"y2":0.9},
{"g":"bS100","o":6,"v":100,"t":1,"b":0,"x":1.87,"y1":0.837,"y2":0.9},
{"g":"bS100","o":6,"v":100,"t":1,"b":0,"x":2.35,"y1":0.849,"y2":0.9},
{"g":"bS100","o":6,"v":100,"t":1,"b":0,"x":2.92,"y1":0.851,"y2":0.9},
{"g":"bS100","o":6,"v":100,"t":1,"b":0,"x":2.98,"y1":0.837,"y2":0.9},
{"g":"bS100","o":6,"v":100,"t":1,"b":0,"x":3.32,"y1":0.837,"y2":0.9},
{"g":"bS100","o":6,"v":100,"t":1,"b":0,"x":4.36,"y1":0.846,"y2":0.9},
{"g":"bS100","o":6,"v":100,"t":1,"b":0,"x":5,"y1":0.849,"y2":0.9},
{"g":"bS105","o":7,"v":105,"t":1,"b":0,"x":1,"y1":0.86,"y2":0.9},
{"g":"bS105","o":7,"v":105,"t":1,"b":0,"x":1.42,"y1":0.86,"y2":0.9},
{"g":"bS105","o":7,"v":105,"t":1,"b":0,"x":1.87,"y1":0.848,"y2":0.9},
{"g":"bS105","o":7,"v":105,"t":1,"b":0,"x":2.35,"y1":0.86,"y2":0.9},
{"g":"bS105","o":7,"v":105,"t":1,"b":0,"x":2.92,"y1":0.862,"y2":0.9},
{"g":"bS105","o":7,"v":105,"t":1,"b":0,"x":2.98,"y1":0.848,"y2":0.9},
{"g":"bS105","o":7,"v":105,"t":1,"b":0,"x":3.32,"y1":0.848,"y2":0.9},
{"g":"bS105","o":7,"v":105,"t":1,"b":0,"x":4.36,"y1":0.857,"y2":0.9},
{"g":"bS105","o":7,"v":105,"t":1,"b":0,"x":5,"y1":0.86,"y2":0.9},
{"g":"bS110","o":8,"v":110,"t":1,"b":0,"x":1,"y1":0.871,"y2":0.9},
{"g":"bS110","o":8,"v":110,"t":1,"b":0,"x":1.42,"y1":0.871,"y2":0.9},
{"g":"bS110","o":8,"v":110,"t":1,"b":0,"x":1.87,"y1":0.859,"y2":0.9},
{"g":"bS110","o":8,"v":110,"t":1,"b":0,"x":2.35,"y1":0.871,"y2":0.9},
{"g":"bS110","o":8,"v":110,"t":1,"b":0,"x":2.92,"y1":0.873,"y2":0.9},
{"g":"bS110","o":8,"v":110,"t":1,"b":0,"x":2.98,"y1":0.859,"y2":0.9},
{"g":"bS110","o":8,"v":110,"t":1,"b":0,"x":3.32,"y1":0.859,"y2":0.9},
{"g":"bS110","o":8,"v":110,"t":1,"b":0,"x":4.36,"y1":0.868,"y2":0.9},
{"g":"bS110","o":8,"v":110,"t":1,"b":0,"x":5,"y1":0.871,"y2":0.9},
{"g":"bS115","o":9,"v":115,"t":1,"b":0,"x":1,"y1":0.882,"y2":0.9},
{"g":"bS115","o":9,"v":115,"t":1,"b":0,"x":1.42,"y1":0.882,"y2":0.9},
{"g":"bS115","o":9,"v":115,"t":1,"b":0,"x":1.87,"y1":0.87,"y2":0.9},
{"g":"bS115","o":9,"v":115,"t":1,"b":0,"x":2.35,"y1":0.882,"y2":0.9},
{"g":"bS115","o":9,"v":115,"t":1,"b":0,"x":2.92,"y1":0.884,"y2":0.9},
{"g":"bS115","o":9,"v":115,"t":1,"b":0,"x":2.98,"y1":0.87,"y2":0.9},
{"g":"bS115","o":9,"v":115,"t":1,"b":0,"x":3.32,"y1":0.87,"y2":0.9},
{"g":"bS115","o":9,"v":115,"t":1,"b":0,"x":4.36,"y1":0.879,"y2":0.9},
{"g":"bS115","o":9,"v":115,"t":1,"b":0,"x":5,"y1":0.882,"y2":0.9},
{"g":"bS120","o":10,"v":120,"t":1,"b":0,"x":1,"y1":0.893,"y2":0.9},
{"g":"bS120","o":10,"v":120,"t":1,"b":0,"x":1.42,"y1":0.893,"y2":0.9},
{"g":"bS120","o":10,"v":120,"t":1,"b":0,"x":1.87,"y1":0.881,"y2":0.9},
{"g":"bS120","o":10,"v":120,"t":1,"b":0,"x":2.35,"y1":0.893,"y2":0.9},
{"g":"bS120","o":10,"v":120,"t":1,"b":0,"x":2.92,"y1":0.895,"y2":0.9},
{"g":"bS120","o":10,"v":120,"t":1,"b":0,"x":2.98,"y1":0.881,"y2":0.9},
{"g":"bS120","o":10,"v":120,"t":1,"b":0,"x":3.32,"y1":0.881,"y2":0.9},
{"g":"bS120","o":10,"v":120,"t":1,"b":0,"x":4.36,"y1":0.89,"y2":0.9},
{"g":"bS120","o":10,"v":120,"t":1,"b":0,"x":5,"y1":0.893,"y2":0.9}
],
"CB":[
{"lo":60,"hi":65,"v":60},{"lo":65,"hi":70,"v":65},{"lo":70,"hi":75,"v":70},{"lo":75,"hi":80,"v":75},
{"lo":80,"hi":85,"v":80},{"lo":85,"hi":90,"v":85},{"lo":90,"hi":95,"v":90},{"lo":95,"hi":100,"v":95},
{"lo":100,"hi":105,"v":100},{"lo":105,"hi":110,"v":105},{"lo":110,"hi":115,"v":110},{"lo":115,"hi":120,"v":115},
{"lo":120,"hi":125,"v":120},{"lo":125,"hi":130,"v":125},{"lo":130,"hi":135,"v":130},{"lo":135,"hi":140,"v":135},
{"lo":140,"hi":145,"v":140},{"lo":145,"hi":150,"v":145},{"lo":150,"hi":155,"v":150}
],
"C":[
{"s":"Before wheeling","d":5,"v":301.5},{"s":"Before wheeling","d":10,"v":296},{"s":"Before wheeling","d":15,"v":304.5},{"s":"Before wheeling","d":20,"v":321},
{"s":"Before wheeling","d":25,"v":333},{"s":"Before wheeling","d":30,"v":345.5},{"s":"Before wheeling","d":40,"v":371.5},{"s":"Before wheeling","d":50,"v":370},
{"s":"During 1st wheeling","d":5,"v":391},{"s":"During 1st wheeling","d":10,"v":407},{"s":"During 1st wheeling","d":15,"v":405.6},{"s":"During 1st wheeling","d":20,"v":363},
{"s":"During 1st wheeling","d":25,"v":370},{"s":"During 1st wheeling","d":30,"v":359.5},{"s":"During 1st wheeling","d":40,"v":364.5},{"s":"During 1st wheeling","d":50,"v":375},
{"s":"After 1st wheeling","d":5,"v":301.5},{"s":"After 1st wheeling","d":10,"v":306},{"s":"After 1st wheeling","d":15,"v":311},{"s":"After 1st wheeling","d":20,"v":311.5},
{"s":"After 1st wheeling","d":25,"v":333},{"s":"After 1st wheeling","d":30,"v":337},{"s":"After 1st wheeling","d":40,"v":358.7},{"s":"After 1st wheeling","d":50,"v":351},
{"s":"During 2nd wheeling","d":5,"v":412},{"s":"During 2nd wheeling","d":10,"v":411},{"s":"During 2nd wheeling","d":15,"v":425},{"s":"During 2nd wheeling","d":20,"v":351},
{"s":"During 2nd wheeling","d":25,"v":352},{"s":"During 2nd wheeling","d":30,"v":347.6},{"s":"During 2nd wheeling","d":40,"v":373.6},{"s":"During 2nd wheeling","d":50,"v":367.6},
{"s":"After 2nd wheeling","d":5,"v":325.5},{"s":"After 2nd wheeling","d":10,"v":343.6},{"s":"After 2nd wheeling","d":15,"v":341},{"s":"After 2nd wheeling","d":20,"v":342.4},
{"s":"After 2nd wheeling","d":25,"v":357},{"s":"After 2nd wheeling","d":30,"v":360},{"s":"After 2nd wheeling","d":40,"v":378},{"s":"After 2nd wheeling","d":50,"v":371}
]
},
"spacing":13,
"vconcat":[
{"spacing":9,"hconcat":[
 {"spacing":56,"hconcat":[
  {"width":505,"height":312,"data":{"name":"A"},
   "encoding":{
    "x":{"field":"x","type":"quantitative","scale":{"domain":[0,5.22],"nice":false,"zero":false},
         "axis":{"orient":"top","values":[0,1,2,3,4,5],"format":"d","title":null,"domainColor":"#555","domainWidth":2,"tickColor":"#555","tickWidth":1.5,"tickSize":6,"labelPadding":3,"labelFont":"DejaVu Sans","labelFontSize":18,"labelColor":"#333"}},
    "y":{"field":"y1","type":"quantitative","scale":{"domain":[0.03,0.9],"nice":false,"zero":false,"reverse":true},
         "axis":{"values":[0.2,0.4,0.6,0.8],"format":".1f","title":"Depth (m)","titleFont":"Liberation Sans Narrow, DejaVu Sans Condensed, Liberation Sans","titleFontSize":22,"titleFontWeight":"bold","titleColor":"#000","titleX":-83,"titleY":148,"titleAngle":-90,"titleAlign":"center","titleBaseline":"middle","domainColor":"#555","domainWidth":2,"tickColor":"#555","tickWidth":1.5,"tickSize":7,"labelPadding":3,"labelFont":"DejaVu Sans","labelFontSize":17,"labelColor":"#333"}},
    "color":{"field":"v","type":"ordinal","legend":null,"scale":{"domain":[60,65,70,75,80,85,90,95,100,105,110,115,120,125,130,135,140,145,150],"range":["#6c14f0","#4a2cee","#3444ee","#2a72f0","#16acf2","#1cc2f2","#1ed6f2","#22e6f0","#28f2d8","#36ea8e","#5ae026","#b0ee22","#ffff10","#ffc018","#ff8c1c","#ff5a24","#fb3c28","#f5242a","#e0145a"]}},
    "detail":{"field":"g","type":"nominal"}
   },
   "layer":[
    {"transform":[{"filter":"datum.o==0"}],"mark":{"type":"area","orient":"vertical"},"encoding":{"y2":{"field":"y2"}}},
    {"transform":[{"filter":"datum.o==1"}],"mark":{"type":"area","orient":"vertical"},"encoding":{"y2":{"field":"y2"}}},
    {"transform":[{"filter":"datum.o==2"}],"mark":{"type":"area","orient":"vertical"},"encoding":{"y2":{"field":"y2"}}},
    {"transform":[{"filter":"datum.o==3"}],"mark":{"type":"area","orient":"vertical"},"encoding":{"y2":{"field":"y2"}}},
    {"transform":[{"filter":"datum.o==4"}],"mark":{"type":"area","orient":"vertical"},"encoding":{"y2":{"field":"y2"}}},
    {"transform":[{"filter":"datum.o==5"}],"mark":{"type":"area","orient":"vertical"},"encoding":{"y2":{"field":"y2"}}},
    {"transform":[{"filter":"datum.o==6"}],"mark":{"type":"area","orient":"vertical"},"encoding":{"y2":{"field":"y2"}}},
    {"transform":[{"filter":"datum.o==7"}],"mark":{"type":"area","orient":"vertical"},"encoding":{"y2":{"field":"y2"}}},
    {"transform":[{"filter":"datum.o==8"}],"mark":{"type":"area","orient":"vertical"},"encoding":{"y2":{"field":"y2"}}},
    {"transform":[{"filter":"datum.o==9"}],"mark":{"type":"area","orient":"vertical"},"encoding":{"y2":{"field":"y2"}}},
    {"transform":[{"filter":"datum.o==10"}],"mark":{"type":"area","orient":"vertical"},"encoding":{"y2":{"field":"y2"}}},
    {"transform":[{"filter":"datum.t==1"}],"mark":{"type":"line","strokeWidth":0.9,"strokeJoin":"round"},"encoding":{"color":{"value":"#2b2b2b"}}},
    {"transform":[{"filter":"datum.b==1"}],"mark":{"type":"line","strokeWidth":0.9,"strokeJoin":"round"},"encoding":{"y":{"field":"y2","type":"quantitative","scale":{"domain":[0.03,0.9],"nice":false,"zero":false,"reverse":true},
         "axis":{"values":[0.2,0.4,0.6,0.8],"format":".1f","title":"Depth (m)","titleFont":"Liberation Sans Narrow, DejaVu Sans Condensed, Liberation Sans","titleFontSize":22,"titleFontWeight":"bold","titleColor":"#000","titleX":-83,"titleY":148,"titleAngle":-90,"titleAlign":"center","titleBaseline":"middle","domainColor":"#555","domainWidth":2,"tickColor":"#555","tickWidth":1.5,"tickSize":7,"labelPadding":3,"labelFont":"DejaVu Sans","labelFontSize":17,"labelColor":"#333"}},"color":{"value":"#2b2b2b"}}},
    {"data":{"values":[{"x":0,"x2":5.22,"y1":0.9,"y2":0.9}]},"mark":{"type":"rule","strokeWidth":2},"encoding":{"x2":{"field":"x2"},"y2":{"field":"y2"},"color":{"value":"#555"}}},
    {"data":{"values":[{"x":1.03,"x2":1.71,"y1":0.046,"y2":0.144}]},"mark":{"type":"rect"},"encoding":{"x2":{"field":"x2"},"y2":{"field":"y2"},"color":{"value":"#ffffff"}}},
    {"data":{"values":[{"x":1.37,"y1":0.095,"txt":"(a)"}]},"mark":{"type":"text","font":"DejaVu Sans","fontSize":31,"fontWeight":"bold","align":"center","baseline":"middle"},"encoding":{"text":{"field":"txt"},"color":{"value":"#000"}}},
    {"data":{"values":[{"x":2.0,"y1":0.733,"txt":"120"}]},"mark":{"type":"text","font":"Liberation Sans","fontSize":15,"fontStyle":"italic","fontWeight":"bold","align":"center","baseline":"middle","angle":14},"encoding":{"text":{"field":"txt"},"color":{"value":"#111"}}},
    {"data":{"values":[{"x":3.4,"y1":0.425,"txt":"120"}]},"mark":{"type":"text","font":"Liberation Sans","fontSize":15,"fontStyle":"italic","fontWeight":"bold","align":"center","baseline":"middle","angle":58},"encoding":{"text":{"field":"txt"},"color":{"value":"#111"}}},
    {"data":{"values":[{"x":5.0,"y1":0.745,"txt":"1"}]},"mark":{"type":"text","font":"Liberation Sans","fontSize":15,"fontStyle":"italic","fontWeight":"bold","align":"center","baseline":"middle"},"encoding":{"text":{"field":"txt"},"color":{"value":"#111"}}}
   ]
  },
  {"width":421,"height":312,"data":{"name":"B"},
   "encoding":{
    "x":{"field":"x","type":"quantitative","scale":{"domain":[0.78,5.15],"nice":false,"zero":false},
         "axis":{"orient":"top","values":[1,2,3,4,5],"format":"d","title":null,"domainColor":"#555","domainWidth":2,"tickColor":"#555","tickWidth":1.5,"tickSize":6,"labelPadding":3,"labelFont":"DejaVu Sans","labelFontSize":18,"labelColor":"#333"}},
    "y":{"field":"y1","type":"quantitative","scale":{"domain":[0.03,0.9],"nice":false,"zero":false,"reverse":true},"axis":null},
    "color":{"field":"v","type":"ordinal","legend":null,"scale":{"domain":[60,65,70,75,80,85,90,95,100,105,110,115,120,125,130,135,140,145,150],"range":["#6c14f0","#4a2cee","#3444ee","#2a72f0","#16acf2","#1cc2f2","#1ed6f2","#22e6f0","#28f2d8","#36ea8e","#5ae026","#b0ee22","#ffff10","#ffc018","#ff8c1c","#ff5a24","#fb3c28","#f5242a","#e0145a"]}},
    "detail":{"field":"g","type":"nominal"}
   },
   "layer":[
    {"transform":[{"filter":"datum.o==0"}],"mark":{"type":"area","orient":"vertical"},"encoding":{"y2":{"field":"y2"}}},
    {"transform":[{"filter":"datum.o==1"}],"mark":{"type":"area","orient":"vertical"},"encoding":{"y2":{"field":"y2"}}},
    {"transform":[{"filter":"datum.o==2"}],"mark":{"type":"area","orient":"vertical"},"encoding":{"y2":{"field":"y2"}}},
    {"transform":[{"filter":"datum.o==3"}],"mark":{"type":"area","orient":"vertical"},"encoding":{"y2":{"field":"y2"}}},
    {"transform":[{"filter":"datum.o==4"}],"mark":{"type":"area","orient":"vertical"},"encoding":{"y2":{"field":"y2"}}},
    {"transform":[{"filter":"datum.o==5"}],"mark":{"type":"area","orient":"vertical"},"encoding":{"y2":{"field":"y2"}}},
    {"transform":[{"filter":"datum.o==6"}],"mark":{"type":"area","orient":"vertical"},"encoding":{"y2":{"field":"y2"}}},
    {"transform":[{"filter":"datum.o==7"}],"mark":{"type":"area","orient":"vertical"},"encoding":{"y2":{"field":"y2"}}},
    {"transform":[{"filter":"datum.o==8"}],"mark":{"type":"area","orient":"vertical"},"encoding":{"y2":{"field":"y2"}}},
    {"transform":[{"filter":"datum.o==9"}],"mark":{"type":"area","orient":"vertical"},"encoding":{"y2":{"field":"y2"}}},
    {"transform":[{"filter":"datum.o==10"}],"mark":{"type":"area","orient":"vertical"},"encoding":{"y2":{"field":"y2"}}},
    {"transform":[{"filter":"datum.t==1"}],"mark":{"type":"line","strokeWidth":0.9,"strokeJoin":"round"},"encoding":{"color":{"value":"#2b2b2b"}}},
    {"transform":[{"filter":"datum.b==1"}],"mark":{"type":"line","strokeWidth":0.9,"strokeJoin":"round"},"encoding":{"y":{"field":"y2","type":"quantitative","scale":{"domain":[0.03,0.9],"nice":false,"zero":false,"reverse":true},"axis":null},"color":{"value":"#2b2b2b"}}},
    {"data":{"values":[{"x":0.89,"x2":5.15,"y1":0.9,"y2":0.9}]},"mark":{"type":"rule","strokeWidth":2},"encoding":{"x2":{"field":"x2"},"y2":{"field":"y2"},"color":{"value":"#555"}}},
    {"data":{"values":[{"x":1.06,"x2":1.7,"y1":0.046,"y2":0.15}]},"mark":{"type":"rect"},"encoding":{"x2":{"field":"x2"},"y2":{"field":"y2"},"color":{"value":"#ffffff"}}},
    {"data":{"values":[{"x":1.38,"y1":0.097,"txt":"(b)"}]},"mark":{"type":"text","font":"DejaVu Sans","fontSize":31,"fontWeight":"bold","align":"center","baseline":"middle"},"encoding":{"text":{"field":"txt"},"color":{"value":"#000"}}}
   ]
  }
 ]},
 {"width":44,"height":308,"data":{"name":"CB"},
  "mark":{"type":"rect","stroke":"#3a2a35","strokeWidth":1},
  "encoding":{
   "y":{"field":"lo","type":"quantitative","scale":{"domain":[60,150.2],"nice":false,"zero":false},
        "axis":{"orient":"right","values":[60,70,80,90,100,110,120,130,140,150],"title":null,"ticks":false,"domain":false,"labelPadding":10,"labelFont":"DejaVu Sans","labelFontSize":17,"labelColor":"#222"}},
   "y2":{"field":"hi"},
   "color":{"field":"v","type":"ordinal","legend":null,"scale":{"domain":[60,65,70,75,80,85,90,95,100,105,110,115,120,125,130,135,140,145,150],"range":["#6c14f0","#4a2cee","#3444ee","#2a72f0","#16acf2","#1cc2f2","#1ed6f2","#22e6f0","#28f2d8","#36ea8e","#5ae026","#b0ee22","#ffff10","#ffc018","#ff8c1c","#ff5a24","#fb3c28","#f5242a","#e0145a"]}}
  }
 }
]},
{"spacing":0,"resolve":{"scale":{"fill":"independent","stroke":"independent","shape":"independent"}},"hconcat":[
 {"width":158,"height":10,"data":{"values":[{"a":1}]},"mark":{"type":"point","opacity":0},"encoding":{}},
 {"width":526,"height":242,"data":{"name":"C"},
  "encoding":{
   "x":{"field":"v","type":"quantitative","scale":{"domain":[200,450],"nice":false,"zero":false},
        "axis":{"orient":"top","values":[200,250,300,350,400,450],"title":"P-wave velocity (m/s)","titleFont":"DejaVu Sans","titleFontSize":22,"titleFontWeight":"bold","titleColor":"#000","titleX":307,"titlePadding":10,"domainColor":"#c8c8c8","domainWidth":1.5,"tickColor":"#c8c8c8","tickSize":4,"labelPadding":8,"labelFont":"Lato","labelFontSize":13,"labelColor":"#555"}},
   "y":{"field":"d","type":"quantitative","scale":{"domain":[0,60],"nice":false,"zero":false,"reverse":true},
        "axis":{"values":[0,10,20,30,40,50,60],"title":"Depth (cm)","titleFont":"Liberation Sans Narrow, DejaVu Sans Condensed, Liberation Sans","titleFontSize":25,"titleFontWeight":"bold","titleColor":"#000","titleX":-63,"titleY":117,"titleAngle":-90,"titleAlign":"center","titleBaseline":"middle","domainColor":"#c8c8c8","domainWidth":1.5,"tickColor":"#c8c8c8","tickSize":4,"labelPadding":8,"labelFont":"Lato","labelFontSize":13,"labelColor":"#555"}}
  },
  "layer":[
   {"mark":{"type":"line","strokeWidth":1.8},"encoding":{"stroke":{"field":"s","type":"nominal","scale":{"domain":["Before wheeling","During 1st wheeling","After 1st wheeling","During 2nd wheeling","After 2nd wheeling"],"range":["#4576b5","#a93a37","#9bbb59","#dd2e2a","#2a8c46"]}},"order":{"field":"d","type":"quantitative"}}},
   {"transform":[{"filter":"datum.s=='Before wheeling'"}],"mark":{"type":"point","shape":"square","filled":true,"size":80,"strokeWidth":1,"opacity":1},
    "encoding":{"fill":{"field":"s","type":"nominal","scale":{"domain":["Before wheeling","During 1st wheeling","After 1st wheeling","During 2nd wheeling","After 2nd wheeling"],"range":["#4f81bd","#c0504d","#c9dd9a","#ec4040","#3aa057"]}},
                "stroke":{"field":"s","type":"nominal","scale":{"domain":["Before wheeling","During 1st wheeling","After 1st wheeling","During 2nd wheeling","After 2nd wheeling"],"range":["#4576b5","#a93a37","#9bbb59","#dd2e2a","#2a8c46"]}}}},
   {"transform":[{"filter":"datum.s=='During 1st wheeling' || datum.s=='During 2nd wheeling'"}],"mark":{"type":"point","shape":"circle","filled":true,"size":90,"strokeWidth":1,"opacity":1},
    "encoding":{"fill":{"field":"s","type":"nominal","scale":{"domain":["Before wheeling","During 1st wheeling","After 1st wheeling","During 2nd wheeling","After 2nd wheeling"],"range":["#4f81bd","#c0504d","#c9dd9a","#ec4040","#3aa057"]}},
                "stroke":{"field":"s","type":"nominal","scale":{"domain":["Before wheeling","During 1st wheeling","After 1st wheeling","During 2nd wheeling","After 2nd wheeling"],"range":["#4576b5","#a93a37","#9bbb59","#dd2e2a","#2a8c46"]}}}},
   {"transform":[{"filter":"datum.s=='After 1st wheeling' || datum.s=='After 2nd wheeling'"}],"mark":{"type":"point","shape":"triangle-up","filled":true,"size":90,"strokeWidth":1,"opacity":1},
    "encoding":{"fill":{"field":"s","type":"nominal","scale":{"domain":["Before wheeling","During 1st wheeling","After 1st wheeling","During 2nd wheeling","After 2nd wheeling"],"range":["#4f81bd","#c0504d","#c9dd9a","#ec4040","#3aa057"]}},
                "stroke":{"field":"s","type":"nominal","scale":{"domain":["Before wheeling","During 1st wheeling","After 1st wheeling","During 2nd wheeling","After 2nd wheeling"],"range":["#4576b5","#a93a37","#9bbb59","#dd2e2a","#2a8c46"]}}}},
   {"mark":{"type":"point","filled":true,"opacity":0},
    "encoding":{
     "shape":{"field":"s","type":"nominal","scale":{"domain":["Before wheeling","During 1st wheeling","After 1st wheeling","During 2nd wheeling","After 2nd wheeling"],"range":["M-1,0H1M-0.25,-0.25H0.25V0.25H-0.25Z","M-1,0H1M0.27,0A0.27,0.27,0,1,1,-0.27,0A0.27,0.27,0,1,1,0.27,0Z","M-1,0H1M0,-0.3L0.3,0.22H-0.3Z","M-1,0H1M0.27,0A0.27,0.27,0,1,1,-0.27,0A0.27,0.27,0,1,1,0.27,0Z","M-1,0H1M0,-0.3L0.3,0.22H-0.3Z"]},
       "legend":{"orient":"none","legendX":52,"legendY":112,"title":null,"symbolSize":900,"symbolStrokeWidth":1.5,"symbolOpacity":1,"labelFont":"Lato","labelFontSize":12.5,"labelColor":"#333","labelOffset":4,"rowPadding":1,"padding":0}},
     "fill":{"field":"s","type":"nominal","scale":{"domain":["Before wheeling","During 1st wheeling","After 1st wheeling","During 2nd wheeling","After 2nd wheeling"],"range":["#4f81bd","#c0504d","#c9dd9a","#ec4040","#3aa057"]},
       "legend":{"orient":"none","legendX":52,"legendY":112,"title":null,"symbolSize":900,"symbolStrokeWidth":1.5,"symbolOpacity":1,"labelFont":"Lato","labelFontSize":12.5,"labelColor":"#333","labelOffset":4,"rowPadding":1,"padding":0}},
     "stroke":{"field":"s","type":"nominal","scale":{"domain":["Before wheeling","During 1st wheeling","After 1st wheeling","During 2nd wheeling","After 2nd wheeling"],"range":["#4576b5","#a93a37","#9bbb59","#dd2e2a","#2a8c46"]},
       "legend":{"orient":"none","legendX":52,"legendY":112,"title":null,"symbolSize":900,"symbolStrokeWidth":1.5,"symbolOpacity":1,"labelFont":"Lato","labelFontSize":12.5,"labelColor":"#333","labelOffset":4,"rowPadding":1,"padding":0}}
    }},
   {"data":{"values":[{"v":223.3,"d":7.7,"txt":"(c)"}]},"mark":{"type":"text","font":"DejaVu Sans","fontSize":32,"fontWeight":"bold","align":"center","baseline":"middle"},"encoding":{"text":{"field":"txt"},"color":{"value":"#000"}}}
  ]
 }
]}
]
}
